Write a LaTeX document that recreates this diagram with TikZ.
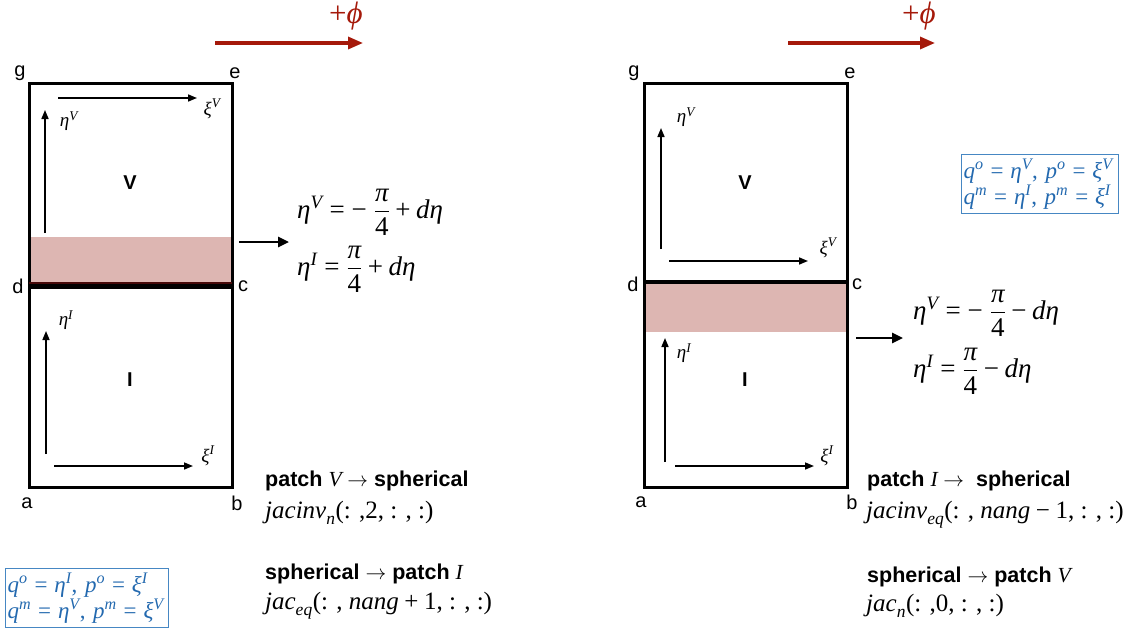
\documentclass[tikz,border=0pt]{standalone}
\usepackage{amsmath}
\usepackage{fontspec}
\setmainfont{Liberation Serif}
\setsansfont{Liberation Sans}
\usetikzlibrary{arrows.meta}
\newcommand{\ti}[1]{\text{\normalfont\itshape #1}}
\newcommand{\tu}[1]{\text{\normalfont\upshape #1}}
\newcommand{\teq}{\mathrel{\tu{=}}}
\newcommand{\tplus}{\mathbin{\tu{+}}}
\newcommand{\tminus}{\mathbin{\tu{−}}}
\definecolor{phired}{RGB}{165,25,10}
\definecolor{bandpink}{RGB}{221,182,178}
\definecolor{banddark}{RGB}{70,8,8}
\definecolor{bluetext}{RGB}{35,105,175}
\definecolor{blueframe}{RGB}{70,135,195}
\tikzset{
  boxline/.style={line width=3pt},
  axis/.style={line width=1.6pt,-{Triangle[length=9pt,width=7pt]}},
  bigarrow/.style={line width=2.6pt,-{Triangle[length=11pt,width=10pt]}},
  phiarrow/.style={phired,line width=3.2pt,-{Triangle[length=15pt,width=12pt]}},
  corner/.style={font=\sffamily\fontsize{20}{22}\selectfont,inner sep=0pt},
  patchlbl/.style={font=\sffamily\bfseries\fontsize{20}{22}\selectfont,inner sep=0pt},
  axlbl/.style={font=\fontsize{19}{21}\selectfont,inner sep=0pt},
  eqn/.style={font=\fontsize{27}{30}\selectfont,inner sep=0pt,anchor=base west},
  mapttl/.style={font=\sffamily\bfseries\fontsize{21.5}{24}\selectfont,inner sep=0pt,anchor=base west},
  mapcode/.style={font=\fontsize{25}{28}\selectfont,inner sep=0pt,anchor=base west},
  phil/.style={phired,font=\fontsize{31}{34}\selectfont,inner sep=0pt},
  bluebox/.style={draw=blueframe,line width=1.2pt,text=bluetext,font=\fontsize{23}{24}\selectfont,align=left,inner xsep=2pt,inner ysep=3pt,anchor=north west}
}
\begin{document}
\begin{tikzpicture}[x=1pt,y=-1pt]
\useasboundingbox (0,0) rectangle (1146,632);
% ---------------- left panel ----------------
\coordinate (Lg) at (29,83);
\coordinate (Le) at (232,83);
\coordinate (Lc) at (232,284);
\coordinate (Ld) at (29,284);
\coordinate (Ld2) at (29,287);
\coordinate (Lc2) at (232,287);
\coordinate (La) at (29,487);
\coordinate (Lb) at (232,487);
\fill[bandpink] (29,237) rectangle (232,283);
\draw[boxline] (Lg) rectangle (Lc);
\draw[boxline] (Ld2) rectangle (Lb);
\draw[banddark,line width=1.5pt] (29,283) -- (232,283);
\node[corner] (lg) at (20,73) {g};
\node[corner] (le) at (235,73) {e};
\node[corner] (ld) at (18,286) {d};
\node[corner] (lc) at (243,286) {c};
\node[corner] (la) at (27,503) {a};
\node[corner] (lb) at (237,503) {b};
\coordinate (LvV0) at (45,233); \coordinate (LvV1) at (45,110);
\coordinate (LhV0) at (58,98); \coordinate (LhV1) at (197,98);
\draw[axis] (LvV0) -- (LvV1);
\draw[axis] (LhV0) -- (LhV1);
\node[axlbl] (letaV) at (69,121) {$\ti{η}^{\ti{V}}$};
\node[axlbl] (lxiV) at (212,109) {$\ti{ξ}^{\ti{V}}$};
\coordinate (LvI0) at (46,454); \coordinate (LvI1) at (46,331);
\coordinate (LhI0) at (54,466); \coordinate (LhI1) at (193,466);
\draw[axis] (LvI0) -- (LvI1);
\draw[axis] (LhI0) -- (LhI1);
\node[axlbl] (letaI) at (66,320) {$\ti{η}^{\ti{I}}$};
\node[axlbl] (lxiI) at (208,456) {$\ti{ξ}^{\ti{I}}$};
\node[patchlbl] (lV) at (130,183) {V};
\node[patchlbl] (lI) at (130,380) {I};
\coordinate (Lphi0) at (215,43); \coordinate (Lphi1) at (363,43);
\draw[phiarrow] (Lphi0) -- (Lphi1);
\node[phil] (lphi) at (346,16) {$\tu{+}\ti{ϕ}$};
\coordinate (Lar0) at (239,242); \coordinate (Lar1) at (289,242);
\draw[bigarrow] (Lar0) -- (Lar1);
\node[eqn] (leq1) at (297,218) {$\ti{η}^{\ti{V}}\teq\tminus\;\dfrac{\ti{π}}{\tu{4}}\tplus\ti{dη}$};
\node[eqn] (leq2) at (297,275) {$\ti{η}^{\ti{I}}\teq\dfrac{\ti{π}}{\tu{4}}\tplus\ti{dη}$};
\node[mapttl] (lt1) at (265,486) {patch $\ti{V}\rightarrow$ spherical};
\node[mapcode] (lc1) at (265,518) {$\ti{jacinv}_{\ti{n}}\tu{(: ,2, : , :)}$};
\node[mapttl] (lt2) at (265,579) {spherical $\rightarrow$ patch $\ti{I}$};
\node[mapcode] (lc2) at (265,609) {$\ti{jac}_{\ti{eq}}\tu{(: , }\ti{nang}\tplus\tu{1, : , :)}$};
\node[bluebox,text width=159pt,minimum height=59pt] (lblue) at (5,568)
  {$\ti{q}^{\ti{o}}\teq\ti{η}^{\ti{I}}\tu{, }\ti{p}^{\ti{o}}\teq\ti{ξ}^{\ti{I}}$\\$\ti{q}^{\ti{m}}\teq\ti{η}^{\ti{V}}\tu{, }\ti{p}^{\ti{m}}\teq\ti{ξ}^{\ti{V}}$};
% ---------------- right panel ----------------
\coordinate (Rg) at (644,83);
\coordinate (Re) at (847,83);
\coordinate (Rc) at (847,282);
\coordinate (Rd) at (644,282);
\coordinate (Ra) at (644,487);
\coordinate (Rb) at (847,487);
\fill[bandpink] (644,282) rectangle (847,332);
\draw[banddark,line width=1.5pt] (644,282) -- (644,332) (847,282) -- (847,332);
\draw[boxline] (Rg) rectangle (Rb);
\draw[line width=4.5pt] (Rd) -- (Rc);
\node[corner] (rg) at (634,73) {g};
\node[corner] (re) at (850,73) {e};
\node[corner] (rd) at (633,284) {d};
\node[corner] (rc) at (857,284) {c};
\node[corner] (ra) at (641,502) {a};
\node[corner] (rb) at (852,502) {b};
\coordinate (RvV0) at (661,249); \coordinate (RvV1) at (661,128);
\coordinate (RhV0) at (669,261); \coordinate (RhV1) at (808,261);
\draw[axis] (RvV0) -- (RvV1);
\draw[axis] (RhV0) -- (RhV1);
\node[axlbl] (retaV) at (686,117) {$\ti{η}^{\ti{V}}$};
\node[axlbl] (rxiV) at (828,248) {$\ti{ξ}^{\ti{V}}$};
\coordinate (RvI0) at (665,462); \coordinate (RvI1) at (665,338);
\coordinate (RhI0) at (675,466); \coordinate (RhI1) at (814,466);
\draw[axis] (RvI0) -- (RvI1);
\draw[axis] (RhI0) -- (RhI1);
\node[axlbl] (retaI) at (684,353) {$\ti{η}^{\ti{I}}$};
\node[axlbl] (rxiI) at (827,456) {$\ti{ξ}^{\ti{I}}$};
\node[patchlbl] (rV) at (745,183) {V};
\node[patchlbl] (rI) at (745,380) {I};
\coordinate (Rphi0) at (788,43); \coordinate (Rphi1) at (935,43);
\draw[phiarrow] (Rphi0) -- (Rphi1);
\node[phil] (rphi) at (919,16) {$\tu{+}\ti{ϕ}$};
\coordinate (Rar0) at (856,338); \coordinate (Rar1) at (903,338);
\draw[bigarrow] (Rar0) -- (Rar1);
\node[eqn] (req1) at (913,319) {$\ti{η}^{\ti{V}}\teq\tminus\;\dfrac{\ti{π}}{\tu{4}}\tminus\ti{dη}$};
\node[eqn] (req2) at (913,377) {$\ti{η}^{\ti{I}}\teq\dfrac{\ti{π}}{\tu{4}}\tminus\ti{dη}$};
\node[mapttl] (rt1) at (867,486) {patch $\ti{I}\rightarrow$\ \ spherical};
\node[mapcode] (rc1) at (866,518) {$\ti{jacinv}_{\ti{eq}}\tu{(: , }\ti{nang}\tminus\tu{1, : , :)}$};
\node[mapttl] (rt2) at (867,582) {spherical $\rightarrow$ patch $\ti{V}$};
\node[mapcode] (rc2) at (866,611) {$\ti{jac}_{\ti{n}}\tu{(: ,0, : , :)}$};
\node[bluebox,text width=153pt,minimum height=59pt] (rblue) at (961,154)
  {$\ti{q}^{\ti{o}}\teq\ti{η}^{\ti{V}}\tu{, }\ti{p}^{\ti{o}}\teq\ti{ξ}^{\ti{V}}$\\$\ti{q}^{\ti{m}}\teq\ti{η}^{\ti{I}}\tu{, }\ti{p}^{\ti{m}}\teq\ti{ξ}^{\ti{I}}$};
\end{tikzpicture}
\end{document}
